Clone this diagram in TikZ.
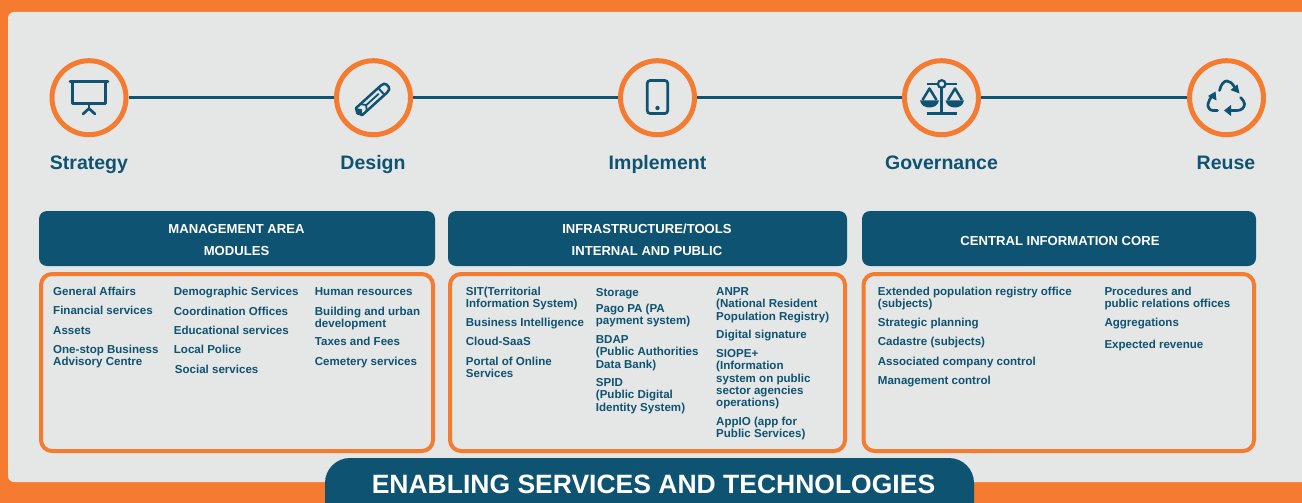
\documentclass[tikz,border=0pt]{standalone}
\usepackage{fontspec}
\setmainfont{Liberation Sans}
\definecolor{brandblue}{HTML}{0F5372}
\definecolor{brandorange}{HTML}{F47B30}
\definecolor{panelgrey}{HTML}{E5E7E6}
\tikzset{
  stage/.style={circle,draw=brandorange,fill=panelgrey,line width=5pt,minimum size=74pt,inner sep=0pt,outer sep=2.5pt},
  stagelink/.style={draw=brandblue,line width=2.8pt},
  stagelabel/.style={text=brandblue,font=\fontsize{19.5}{24}\selectfont\bfseries,inner sep=0pt,anchor=base},
  headbox/.style={fill=brandblue,rounded corners=8pt},
  headtext/.style={text=white,font=\fontsize{13.1}{22}\selectfont\bfseries,align=center,inner sep=0pt},
  frame/.style={draw=brandorange,line width=4pt,rounded corners=11pt},
  entry/.style={text=brandblue,font=\fontsize{11.55}{12.4}\selectfont\bfseries,align=left,inner sep=0pt,anchor=north west},
  icon/.style={draw=brandblue,line width=2.7pt},
}
\newcommand{\firstline}{\rule{0pt}{8.5pt}}
\begin{document}
\begin{tikzpicture}[x=1pt,y=-1pt]
\useasboundingbox (0,0) rectangle (1302,503);
\fill[brandorange] (0,0) rectangle (1302,503);
\fill[panelgrey,rounded corners=6pt] (8,12) -- (1320,12) -- (1320,482) -- (8,482) -- cycle;

% timeline
\node[stage] (strategy) at (89,97.7) {};
\node[stage] (design) at (373.5,97.7) {};
\node[stage] (implement) at (657.5,97.7) {};
\node[stage] (governance) at (941.5,97.7) {};
\node[stage] (reuse) at (1226.5,97.7) {};
\draw[stagelink] (strategy) -- (design);
\draw[stagelink] (design) -- (implement);
\draw[stagelink] (implement) -- (governance);
\draw[stagelink] (governance) -- (reuse);

\node[stagelabel] (lstrategy) at (89,169) {Strategy};
\node[stagelabel] (ldesign) at (373,169) {Design};
\node[stagelabel] (limplement) at (657.5,169) {Implement};
\node[stagelabel] (lgovernance) at (941.5,169) {Governance};
\node[stagelabel] (lreuse) at (1226,169) {Reuse};

% board icon
\draw[icon,line cap=round] (70,81.7) -- (108,81.7);
\draw[icon,line join=round] (72.5,82) -- (72.5,103.8) -- (105.7,103.8) -- (105.7,82);
\draw[icon] (89,104) -- (89,108.5);
\draw[icon,line cap=round,line join=round] (83,114) -- (89,108.5) -- (95,114);

% pencil icon
\begin{scope}[shift={(357.3,113.2)},x={(0.74pt,0.67pt)},y={(0.67pt,-0.74pt)}]
\draw[icon,line join=round,line width=2.5pt] (0,0) -- (2.5,-4.7) -- (36,-4.7) .. controls (39,-4.7) and (41,-3.5) .. (41,-1.5) -- (41,1.5) .. controls (41,3.5) and (39,4.7) .. (36,4.7) -- (2.5,4.7) -- cycle;
\draw[icon,line width=2pt] (32.5,-4.7) -- (32.5,4.7);
\draw[icon,line width=1.8pt] (12,0) -- (29,0);
\draw[icon,line width=1.8pt] (8.5,-4.7) -- (12,0) -- (8.5,4.7);
\fill[brandblue] (0,0) -- (2.5,-4.5) -- (6,0) -- (2.5,4.5) -- cycle;
\end{scope}

% phone icon
\draw[icon,rounded corners=3pt] (647.2,80.5) rectangle (667.8,113.5);
\fill[brandblue] (657.5,108) circle (2.2pt);

% scales icon
\draw[icon] (941.7,84) -- (941.7,112);
\draw[icon] (926.7,113.5) -- (956.7,113.5);
\draw[icon] (926.5,84) -- (957,84);
\draw[icon,fill=panelgrey,line width=2.2pt] (941.7,84) circle (3.8pt);
\draw[icon,line width=2.5pt,line join=round] (922.5,100) -- (929.5,88.5) -- (936.5,100);
\draw[icon,line width=2.5pt,line join=round] (948,100) -- (955,88.5) -- (962,100);
\fill[brandblue] (920,100.5) -- (939,100.5) .. controls (938,106) and (933,107.5) .. (929.5,107.5) .. controls (926,107.5) and (921,106) .. (920,100.5) -- cycle;
\fill[brandblue] (945.5,100.5) -- (964,100.5) .. controls (963,106) and (958.5,107.5) .. (955,107.5) .. controls (951.5,107.5) and (946.5,106) .. (945.5,100.5) -- cycle;

% recycle icon
\draw[icon,line cap=round] (1219.5,90.5) .. controls (1221,84) and (1224,81) .. (1227,81) .. controls (1230,81) and (1232,83) .. (1235.5,88.5);
\fill[brandblue] (1239.5,93.5) -- (1237.5,84.5) -- (1230.5,90) -- cycle;
\draw[icon,line cap=round] (1240.5,97.5) .. controls (1243,100) and (1244.5,102) .. (1244.5,104) .. controls (1244.5,108) and (1241,110.5) .. (1237,110.5) -- (1228,110.5);
\fill[brandblue] (1224,110.5) -- (1231,105) -- (1231,116) -- cycle;
\draw[icon,line cap=round] (1217.5,110.5) -- (1213,110.5) .. controls (1209.5,110.5) and (1207.5,107) .. (1208,104) .. controls (1208.5,101) and (1210,99) .. (1212.5,95);
\fill[brandblue] (1215.5,91.5) -- (1216.5,100.5) -- (1208,96) -- cycle;

% headers
\fill[headbox] (39,211) rectangle (435,266);
\fill[headbox] (448,211) rectangle (847,266);
\fill[headbox] (862,211) rectangle (1256,266);
\node[headtext] (hmanage) at (236.5,239.5) {MANAGEMENT AREA\\MODULES};
\node[headtext] (hinfra) at (647,239.5) {INFRASTRUCTURE/TOOLS\\INTERNAL AND PUBLIC};
\node[headtext] (hcore) at (1060,240.5) {CENTRAL INFORMATION CORE};

% frames
\draw[frame] (41,274) rectangle (433,451);
\draw[frame] (450,274) rectangle (845,451);
\draw[frame] (863.5,274) rectangle (1254,451);

% column 1
\node[entry] (a1) at (53,286.5) {\firstline General Affairs};
\node[entry] (a2) at (53,305.5) {\firstline Financial services};
\node[entry] (a3) at (53,325.5) {\firstline Assets};
\node[entry] (a4) at (53,344.5) {\firstline One-stop Business\\Advisory Centre};
\node[entry] (b1) at (173.7,286.5) {\firstline Demographic Services};
\node[entry] (b2) at (173.7,306.5) {\firstline Coordination Offices};
\node[entry] (b3) at (173.7,325.5) {\firstline Educational services};
\node[entry] (b4) at (173.7,344.5) {\firstline Local Police};
\node[entry] (b5) at (174.7,364.5) {\firstline Social services};
\node[entry] (c1) at (314.7,286.5) {\firstline Human resources};
\node[entry] (c2) at (314.7,306.5) {\firstline Building and urban\\development};
\node[entry] (c3) at (314.7,336.5) {\firstline Taxes and Fees};
\node[entry] (c4) at (314.7,356.5) {\firstline Cemetery services};

% column 2
\node[entry] (d1) at (465.7,286.5) {\firstline SIT(Territorial\\Information System)};
\node[entry] (d2) at (465.7,317.5) {\firstline Business Intelligence};
\node[entry] (d3) at (465.7,336.5) {\firstline Cloud-SaaS};
\node[entry] (d4) at (465.7,356.5) {\firstline Portal of Online\\Services};
\node[entry] (e1) at (595.7,287.5) {\firstline Storage};
\node[entry] (e2) at (595.7,303.5) {\firstline Pago PA (PA\\payment system)};
\node[entry] (e3) at (595.7,334.5) {\firstline BDAP\\(Public Authorities\\Data Bank)};
\node[entry] (e4) at (595.7,377.5) {\firstline SPID\\(Public Digital\\Identity System)};
\node[entry] (f1) at (716,286.5) {\firstline ANPR\\(National Resident\\Population Registry)};
\node[entry] (f2) at (716,329.5) {\firstline Digital signature};
\node[entry] (f3) at (716,348.5) {\firstline SIOPE+\\(Information\\system on public\\sector agencies\\operations)};
\node[entry] (f4) at (716,416.5) {\firstline AppIO (app for\\Public Services)};

% column 3
\node[entry] (g1) at (877.7,286.5) {\firstline Extended population registry office\\(subjects)};
\node[entry] (g2) at (877.7,317.5) {\firstline Strategic planning};
\node[entry] (g3) at (877.7,336.5) {\firstline Cadastre (subjects)};
\node[entry] (g4) at (877.7,356.5) {\firstline Associated company control};
\node[entry] (g5) at (877.7,375.5) {\firstline Management control};
\node[entry] (h1) at (1104.3,286.5) {\firstline Procedures and\\public relations offices};
\node[entry] (h2) at (1104.3,317.5) {\firstline Aggregations};
\node[entry] (h3) at (1104.3,339.5) {\firstline Expected revenue};

% bottom banner
\begin{scope}
\clip (0,0) rectangle (1302,503);
\fill[brandblue,rounded corners=25pt] (325,458) rectangle (974,540);
\end{scope}
\node[text=white,font=\fontsize{26.5}{30}\selectfont\bfseries,inner sep=0pt,anchor=base] (banner) at (653.5,493.5) {ENABLING SERVICES AND TECHNOLOGIES};
\end{tikzpicture}
\end{document}
